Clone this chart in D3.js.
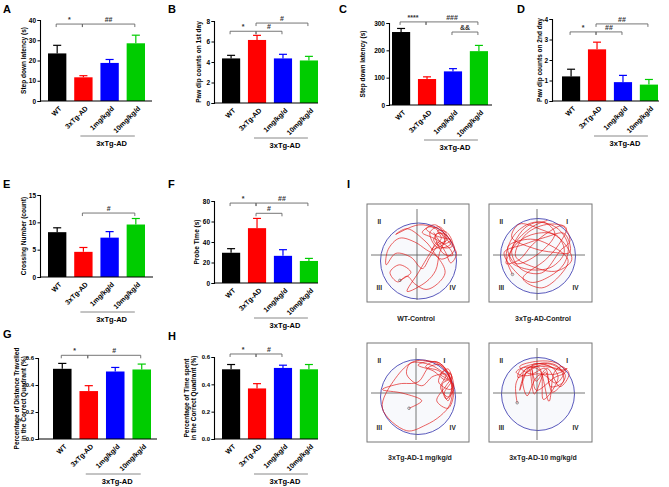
<!DOCTYPE html>
<html><head><meta charset="utf-8">
<script src="https://cdn.jsdelivr.net/npm/d3@7"></script>
<style>body{margin:0;background:#fff} svg{display:block} text{font-family:"Liberation Sans",Arial,sans-serif;font-weight:bold}</style>
</head><body><svg id="c" width="669" height="487"></svg>
<script>
// ---------- data ----------
const categories = ["WT", "3xTg-AD", "1mg/kg/d", "10mg/kg/d"];
const barColors = ["#000000", "#ff0000", "#0000ff", "#00cc00"];
const groupLabel = "3xTg-AD";

// A: step down latency (s), day 1
const aMean = [23.5, 11.7, 18.8, 28.5];
const aErr  = [4.0, 0.8, 1.7, 4.0];
const aTicks = [0, 10, 20, 30, 40];
const aSig = [[0, 1, "*", 38], [1, 3, "##", 38]];
// B: paw dip counts on 1st day
const bMean = [4.35, 6.15, 4.35, 4.15];
const bErr  = [0.3, 0.45, 0.4, 0.4];
const bTicks = [0, 2, 4, 6, 8];
const bSig = [[0, 1, "*", 7.0], [1, 2, "#", 7.0], [1, 3, "#", 7.8]];
// C: step down latency (s), day 2
const cMean = [267, 95, 123, 197];
const cErr  = [13, 8, 10, 21];
const cTicks = [0, 100, 200, 300];
const cSig = [[0, 1, "****", 304], [1, 3, "###", 304], [2, 3, "&&", 267]];
// D: paw dip counts on 2nd day
const dMean = [1.2, 2.52, 0.92, 0.8];
const dErr  = [0.35, 0.35, 0.33, 0.25];
const dTicks = [0, 1, 2, 3, 4];
const dSig = [[0, 1, "*", 3.37], [1, 2, "##", 3.37], [1, 3, "##", 3.76]];
// E: crossing number
const eMean = [8.2, 4.6, 7.2, 9.6];
const eErr  = [0.8, 0.8, 1.1, 1.1];
const eTicks = [0, 5, 10, 15];
const eSig = [[1, 3, "#", 11.7]];
// F: probe time (s)
const fMean = [29.5, 53.5, 26.5, 21.5];
const fErr  = [4.0, 9.5, 6.0, 2.5];
const fTicks = [0, 20, 40, 60, 80];
const fSig = [[0, 1, "*", 78], [1, 3, "##", 78], [1, 2, "#", 68]];
// G: percentage of distance travelled in correct quadrant
const gMean = [0.52, 0.355, 0.50, 0.515];
const gErr  = [0.04, 0.04, 0.03, 0.04];
const gTicks = [0, 0.2, 0.4, 0.6];
const gSig = [[0, 1, "*", 0.62], [1, 3, "#", 0.62]];
// H: percentage of time spent in correct quadrant
const hMean = [0.51, 0.37, 0.52, 0.51];
const hErr  = [0.035, 0.035, 0.02, 0.035];
const hTicks = [0, 0.2, 0.4, 0.6];
const hSig = [[0, 1, "*", 0.622], [1, 2, "#", 0.622]];

// I: swim paths (unit-circle coordinates, y up), hand traced
const quadrantLabels = ["I", "II", "III", "IV"];
const pathCaptions = ["WT-Control", "3xTg-AD-Control", "3xTg-AD-1 mg/kg/d", "3xTg-AD-10 mg/kg/d"];
const pathWT = [[-0.49,-0.51],[-0.2,-0.3],[-0.5,-0.1],[-0.75,-0.3],[-0.55,-0.55],[-0.3,-0.4],[-0.1,-0.6],[0.2,-0.75],[0.5,-0.6],[0.7,-0.3],[0.5,0.1],[0.2,0.3],[-0.1,0.5],[-0.5,0.6],[-0.8,0.3],[-0.85,-0.1],[-0.6,0.2],[-0.2,0.1],[0.1,-0.2],[0.3,0.1],[0.55,0.45],[0.75,0.55],[0.6,0.8],[0.3,0.9],[0.1,0.75],[0.4,0.6],[0.8,0.35],[0.9,0.15],[0.65,0.2],[0.45,0.7],[0.7,0.7],[0.85,0.45],[0.5,0.35],[0.3,0.75],[0.55,0.9],[0.8,0.6],[0.95,0.3],[0.6,0.05],[0.2,0.5],[-0.3,0.85],[-0.6,0.7],[0.0,0.95],[0.45,0.85],[0.7,0.5],[0.35,0.3],[0.6,0.6],[0.5,0.8],[0.75,0.75],[0.9,0.4],[0.65,0.35],[0.4,0.55],[0.55,0.75],[0.8,0.5],[1.0,0.2],[0.85,-0.05],[0.7,0.25],[0.5,0.5],[0.3,0.2],[0.0,-0.3],[-0.3,-0.8],[0.2,-0.55],[0.45,-0.25],[0.55,0.2],[0.7,0.65],[0.45,0.95],[0.2,0.85],[0.5,0.65],[0.85,0.55],[0.65,0.45],[0.4,0.75]];
const pathAD = [[-0.68,-0.49],[-0.85,0],[-0.6,0.6],[-0.1,0.9],[0.5,0.75],[0.8,0.3],[0.7,-0.2],[0.3,-0.55],[-0.2,-0.7],[-0.7,-0.3],[-0.9,0.1],[-0.4,0.3],[0.2,0.5],[0.7,0.6],[0.85,0.1],[0.4,0.1],[-0.1,0.2],[-0.7,0.5],[-0.5,0.85],[0.1,0.7],[0.6,0.45],[0.9,-0.1],[0.5,-0.4],[-0.1,-0.3],[-0.6,0.0],[-0.3,0.6],[0.3,0.85],[0.75,0.75],[0.55,0.3],[0.2,-0.1],[-0.4,-0.6],[0.1,-0.85],[0.6,-0.5],[0.8,-0.1],[0.3,0.3],[-0.2,0.45],[-0.8,0.25],[-0.6,-0.2],[0.0,0.05],[0.45,0.6],[0.15,0.9],[-0.35,0.75],[-0.75,-0.1],[-0.3,-0.35],[0.35,-0.3],[0.7,0.1],[0.5,0.55],[-0.05,0.6],[-0.55,0.35],[-0.85,-0.2],[-0.5,-0.1],[-0.15,0.3],[0.3,0.65],[0.65,0.8],[0.85,0.4],[0.6,0.15],[0.1,-0.45],[-0.45,-0.35],[-0.7,0.15],[-0.2,0.75],[0.25,0.95]];
const pathLow = [[-0.24,-0.3],[0.1,-0.1],[-0.4,0.1],[-0.95,0.2],[-0.5,0.35],[0.0,0.4],[0.3,0.8],[0.6,0.85],[0.9,0.4],[0.85,-0.2],[0.6,-0.5],[0.2,-0.75],[-0.3,-0.9],[-0.95,-0.3],[-0.6,0.5],[-0.1,0.95],[0.5,0.9],[0.8,0.6],[0.95,0.1],[0.8,-0.3],[0.5,-0.1],[0.75,0.3],[0.9,0.55],[0.7,0.7],[0.55,0.4],[0.85,0.2],[0.95,0.3],[0.75,0.5],[0.6,0.6],[0.8,0.75],[0.9,0.45],[0.7,0.1],[0.8,-0.1],[0.9,0.25],[0.65,0.85],[0.3,0.95],[0.0,0.85],[0.4,0.7],[0.75,0.45],[0.85,0.65],[0.95,0.2],[0.75,-0.05],[0.65,0.35],[0.85,0.5],[0.7,0.8],[0.45,0.95],[0.2,0.8],[0.55,0.7],[0.9,0.35],[0.8,0.0],[0.6,0.25],[0.75,0.6],[0.4,0.55],[0.1,0.3],[-0.3,0.6],[-0.2,0.9],[0.35,0.85],[0.8,0.55]];
const pathHigh = [[-0.57,-0.24],[-0.6,0.3],[-0.3,0.7],[0.2,0.75],[0.7,0.6],[0.5,0.3],[0.1,0.55],[-0.4,0.5],[-0.6,0.6],[-0.2,0.8],[0.4,0.8],[0.75,0.5],[0.4,0.05],[0.2,0.6],[-0.1,0.0],[-0.25,0.7],[-0.5,0.1],[-0.35,0.55],[0.0,0.75],[0.3,-0.2],[0.45,0.6],[0.65,0.75],[0.85,0.55],[0.6,0.2],[0.25,0.7],[-0.05,0.35],[-0.15,0.8],[0.35,0.75],[0.55,0.45],[0.15,-0.15],[0.05,0.65],[-0.45,0.7],[-0.55,0.45],[0.1,0.8],[0.6,0.65],[0.8,0.7],[0.5,0.55],[0.0,0.5],[-0.3,-0.05],[-0.4,0.6],[0.15,0.85],[0.55,0.75],[0.7,0.35],[0.35,0.2],[0.2,0.7],[-0.2,0.55],[-0.5,0.75],[0.0,0.9],[0.5,0.85],[0.75,0.6],[0.45,0.45],[-0.05,0.1],[-0.15,0.65]];

// ---------- layout ----------
const svg = d3.select("#c");
const panels = [
  {L:"A", lx:3, ly:13, ax:40, top:20, bot:101, end:152, bars:[48,145], yl:[24], ylab:["Step down latency (s)"], mean:aMean, err:aErr, ticks:aTicks, sig:aSig, fmt:d3.format("d"), tf:6.5},
  {L:"B", lx:168, ly:13, ax:214, top:21, bot:103, end:318, bars:[222,318], yl:[199], ylab:["Paw dip counts on 1st day"], mean:bMean, err:bErr, ticks:bTicks, sig:bSig, fmt:d3.format("d"), tf:6.5},
  {L:"C", lx:339, ly:13, ax:389, top:23, bot:105, end:492, bars:[392,488], yl:[363], ylab:["Step down latency (s)"], mean:cMean, err:cErr, ticks:cTicks, sig:cSig, fmt:d3.format("d"), tf:6.5},
  {L:"D", lx:517, ly:13, ax:552, top:19, bot:101, end:659, bars:[562,658], yl:[540], ylab:["Paw dip counts on 2nd day"], mean:dMean, err:dErr, ticks:dTicks, sig:dSig, fmt:d3.format("d"), tf:6.5},
  {L:"E", lx:3, ly:188, ax:40, top:195, bot:277, end:153, bars:[48,145], yl:[24], ylab:["Crossing Number (count)"], mean:eMean, err:eErr, ticks:eTicks, sig:eSig, fmt:d3.format("d"), tf:6.5},
  {L:"F", lx:168, ly:188, ax:214, top:201, bot:283, end:318, bars:[222,318], yl:[197], ylab:["Probe Time (s)"], mean:fMean, err:fErr, ticks:fTicks, sig:fSig, fmt:d3.format("d"), tf:6.5},
  {L:"G", lx:3, ly:338, ax:38, top:358, bot:439, end:157, bars:[53,151], yl:[17,24], ylab:["Percentage of Distance Travelled","in the Correct Quadrant (%)"], mean:gMean, err:gErr, ticks:gTicks, sig:gSig, fmt:d3.format(".1f"), tf:6},
  {L:"H", lx:168, ly:340, ax:214, top:357, bot:439, end:318, bars:[222,318], yl:[187,194], ylab:["Percentage of Time spent","in the Correct Quadrant (%)"], mean:hMean, err:hErr, ticks:hTicks, sig:hSig, fmt:d3.format(".1f"), tf:6}
];

panels.forEach(p => {
  const g = svg.append("g");
  const y = d3.scaleLinear().domain([0, d3.max(p.ticks)]).range([p.bot, p.top]);
  const x = d3.scaleBand().domain(categories).range(p.bars).paddingInner(0.3).paddingOuter(0);
  const bw = x.bandwidth();
  const cx = i => x(categories[i]) + bw / 2;

  g.append("text").attr("x", p.lx).attr("y", p.ly).attr("font-size", 11).text(p.L);

  // bars
  g.selectAll(".bar").data(p.mean).join("rect")
    .attr("x", (d, i) => x(categories[i])).attr("width", bw)
    .attr("y", d => y(d)).attr("height", d => y(0) - y(d))
    .attr("fill", (d, i) => barColors[i]);
  // error bars
  p.mean.forEach((m, i) => {
    const c = cx(i), yt = y(m + p.err[i]);
    g.append("line").attr("x1", c).attr("x2", c).attr("y1", y(m)).attr("y2", yt)
      .attr("stroke", barColors[i]).attr("stroke-width", 1.2);
    g.append("line").attr("x1", c - bw * 0.22).attr("x2", c + bw * 0.22).attr("y1", yt).attr("y2", yt)
      .attr("stroke", barColors[i]).attr("stroke-width", 1.2);
  });

  // y axis
  const ya = g.append("g").attr("transform", `translate(${p.ax},0)`)
    .call(d3.axisLeft(y).tickValues(p.ticks).tickFormat(p.fmt).tickSize(2.5).tickPadding(1.5));
  ya.select(".domain").attr("stroke-width", 1.1);
  ya.selectAll(".tick line").attr("stroke-width", 1);
  ya.selectAll("text").attr("font-size", p.tf).attr("font-family", '"Liberation Sans",Arial,sans-serif').attr("font-weight", "bold");
  // x axis line
  g.append("line").attr("x1", p.ax).attr("x2", p.end).attr("y1", p.bot).attr("y2", p.bot)
    .attr("stroke", "#000").attr("stroke-width", 1.1);
  // x tick labels (rotated)
  categories.forEach((c, i) => {
    g.append("text").attr("transform", `translate(${cx(i) + 2},${p.bot + 5}) rotate(-45)`)
      .attr("text-anchor", "end").attr("dy", "0.6em").attr("font-size", 7).text(c);
  });
  // group underline
  const gy = p.bot + 35;
  g.append("line").attr("x1", cx(1) - 3).attr("x2", cx(3) - 1).attr("y1", gy).attr("y2", gy)
    .attr("stroke", "#888").attr("stroke-width", 1);
  g.append("text").attr("x", (cx(1) + cx(3)) / 2 + 2).attr("y", gy + 10)
    .attr("text-anchor", "middle").attr("font-size", 7.5).text(groupLabel);

  // y label
  const midY = (p.top + p.bot) / 2;
  p.ylab.forEach((t, k) => {
    g.append("text").attr("transform", `translate(${p.yl[k]},${midY}) rotate(-90)`)
      .attr("text-anchor", "middle").attr("dy", "0.35em").attr("font-size", 6.5).text(t);
  });

  // significance brackets
  p.sig.forEach(s => {
    const x1 = cx(s[0]) - 1, x2 = cx(s[1]) - 1, yy = y(s[3]);
    g.append("path").attr("d", `M${x1},${yy + 3}V${yy}H${x2}V${yy + 3}`)
      .attr("fill", "none").attr("stroke", "#666").attr("stroke-width", 0.9);
    g.append("text").attr("x", (x1 + x2) / 2).attr("y", yy - 2)
      .attr("text-anchor", "middle").attr("font-size", 7).attr("fill", "#333").text(s[2]);
  });
});

// ---------- panel I ----------
svg.append("text").attr("x", 347).attr("y", 188).attr("font-size", 11).text("I");
const mazes = [
  {box:[367,204,102,98], cross:[417,255], circ:[418.5,261,38], path:pathWT, cap:[416,321]},
  {box:[489,204,103,98], cross:[537,255], circ:[538,256,37.5], path:pathAD, cap:[543,321]},
  {box:[367,343,102,99], cross:[416,393], circ:[418,397,37.5], path:pathLow, cap:[420,460]},
  {box:[489,343,103,99], cross:[537,393], circ:[538,394,36.5], path:pathHigh, cap:[543,460]}
];
const line = d3.line().curve(d3.curveCatmullRom.alpha(0.5));
mazes.forEach((m, k) => {
  const g = svg.append("g");
  const [bx, by, bw, bh] = m.box;
  const [ccx, ccy, r] = m.circ;
  const px = d3.scaleLinear().domain([-1, 1]).range([ccx - r, ccx + r]);
  const py = d3.scaleLinear().domain([-1, 1]).range([ccy + r, ccy - r]);
  g.append("rect").attr("x", bx).attr("y", by).attr("width", bw).attr("height", bh)
    .attr("fill", "#fff").attr("stroke", "#777").attr("stroke-width", 1);
  g.append("circle").attr("cx", ccx).attr("cy", ccy).attr("r", r)
    .attr("fill", "#f8f9fc").attr("stroke", "#4646b4").attr("stroke-width", 0.9);
  g.append("line").attr("x1", bx + 4).attr("x2", bx + bw - 7).attr("y1", m.cross[1]).attr("y2", m.cross[1])
    .attr("stroke", "#666").attr("stroke-width", 0.9);
  g.append("line").attr("x1", m.cross[0]).attr("x2", m.cross[0]).attr("y1", by + 5).attr("y2", by + bh - 2)
    .attr("stroke", "#666").attr("stroke-width", 0.9);
  g.append("path").attr("d", line(m.path.map(p => [px(p[0]), py(p[1])])))
    .attr("fill", "none").attr("stroke", "#e01010").attr("stroke-width", 0.65);
  g.append("circle").attr("cx", px(m.path[0][0])).attr("cy", py(m.path[0][1])).attr("r", 1.3)
    .attr("fill", "none").attr("stroke", "#555").attr("stroke-width", 0.6);
  // quadrant labels
  const qpos = [[bx + bw * 0.76, by + 20], [bx + bw * 0.12, by + 20], [bx + bw * 0.12, by + bh - 12], [bx + bw * 0.84, by + bh - 12]];
  quadrantLabels.forEach((q, i) => {
    g.append("text").attr("x", qpos[i][0]).attr("y", qpos[i][1]).attr("text-anchor", "middle")
      .attr("font-size", 6.5).attr("fill", "#222").text(q);
  });
  g.append("text").attr("x", m.cap[0]).attr("y", m.cap[1]).attr("text-anchor", "middle")
    .attr("font-size", 7).attr("fill", "#222").text(pathCaptions[k]);
});
</script></body></html>
